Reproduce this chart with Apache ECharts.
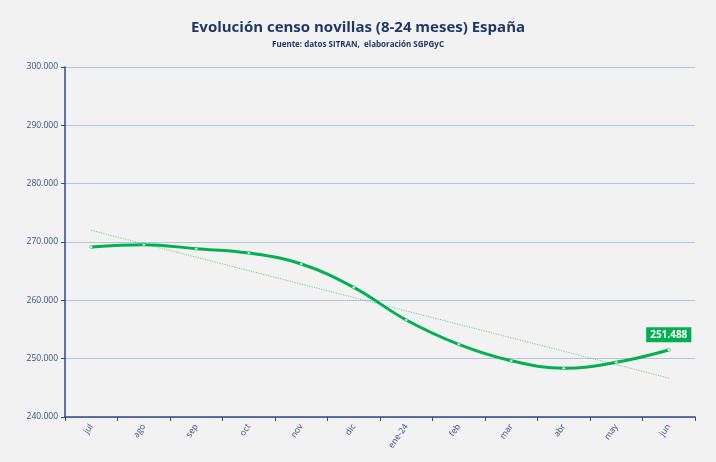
<!DOCTYPE html>
<html>
<head>
<meta charset="utf-8">
<script src="https://cdn.jsdelivr.net/npm/echarts@6/dist/echarts.min.js"></script>
<style>
  html, body { margin: 0; padding: 0; background: #f2f2f2; }
  #chart { width: 716px; height: 462px; }
</style>
</head>
<body>
<div id="chart"></div>
<script>
var meses = ["jul", "ago", "sep", "oct", "nov", "dic", "ene-24", "feb", "mar", "abr", "may", "jun"];
var censo = [269140, 269540, 268850, 268110, 266230, 262230, 256630, 252460, 249650, 248340, 249370, 251488];
var yTicks = [240000, 300000, 10000]; // min, max, interval

// tendencia lineal (minimos cuadrados) sobre los datos
function tendencia(vals) {
  var n = vals.length, sx = 0, sy = 0, sxy = 0, sxx = 0;
  vals.forEach(function (v, i) { sx += i; sy += v; sxy += i * v; sxx += i * i; });
  var b = (n * sxy - sx * sy) / (n * sxx - sx * sx);
  var a = (sy - b * sx) / n;
  return vals.map(function (v, i) { return a + b * i; });
}

function fmt(v) {
  return String(Math.round(v)).replace(/\B(?=(\d{3})+(?!\d))/g, ".");
}

var navy = "#1f3864";
var verde = "#00b050";

// solo el ultimo punto lleva etiqueta
var censoData = censo.map(function (v, i) {
  if (i !== censo.length - 1) return v;
  return {
    value: v,
    label: {
      show: true,
      position: "top",
      distance: 6,
      formatter: function (p) { return fmt(p.value); },
      backgroundColor: verde,
      color: "#fff",
      fontWeight: "bold",
      fontSize: 10,
      padding: [3, 4, 2, 4]
    }
  };
});

var chart = echarts.init(document.getElementById("chart"));
var option = {
  backgroundColor: "#f2f2f2",
  textStyle: { fontFamily: "Open Sans" },
  title: {
    text: "Evolución censo novillas (8-24 meses) España",
    subtext: "Fuente: datos SITRAN,  elaboración SGPGyC",
    left: "center",
    top: 15,
    itemGap: 6,
    textStyle: { color: navy, fontSize: 15, fontWeight: "bold", fontFamily: "Open Sans" },
    subtextStyle: { color: navy, fontSize: 8, fontWeight: "bold", fontFamily: "Open Sans" }
  },
  grid: { left: 65, right: 21, top: 67, bottom: 45 },
  xAxis: {
    type: "category",
    data: meses,
    boundaryGap: true,
    axisLine: { lineStyle: { color: "#2f4a86", width: 1.5 } },
    axisTick: { show: true, length: 4, lineStyle: { color: "#2f4a86" } },
    axisLabel: { rotate: 55, color: "#2f4a86", fontSize: 8.5, margin: 8 }
  },
  yAxis: {
    type: "value",
    min: yTicks[0],
    max: yTicks[1],
    interval: yTicks[2],
    axisLine: { show: true, lineStyle: { color: "#2f4a86", width: 1.5 } },
    axisTick: { show: true, length: 4, lineStyle: { color: "#2f4a86" } },
    axisLabel: { color: "#3b4f7a", fontSize: 8.5, margin: 7, formatter: function (v) { return fmt(v); } },
    splitLine: { lineStyle: { color: "#b8c2d8", width: 1 } }
  },
  series: [
    {
      name: "tendencia",
      type: "line",
      data: tendencia(censo),
      symbol: "none",
      silent: true,
      lineStyle: { color: "#4fc87a", width: 1, type: [1, 1.5] },
      z: 1
    },
    {
      name: "censo",
      type: "line",
      data: censoData,
      smooth: 0.4,
      symbol: "circle",
      symbolSize: 3,
      itemStyle: { color: "#e8f7ee", borderColor: verde, borderWidth: 0.5 },
      lineStyle: { color: verde, width: 3 },
      z: 3
    }
  ]
};
chart.setOption(option);
</script>
</body>
</html>
